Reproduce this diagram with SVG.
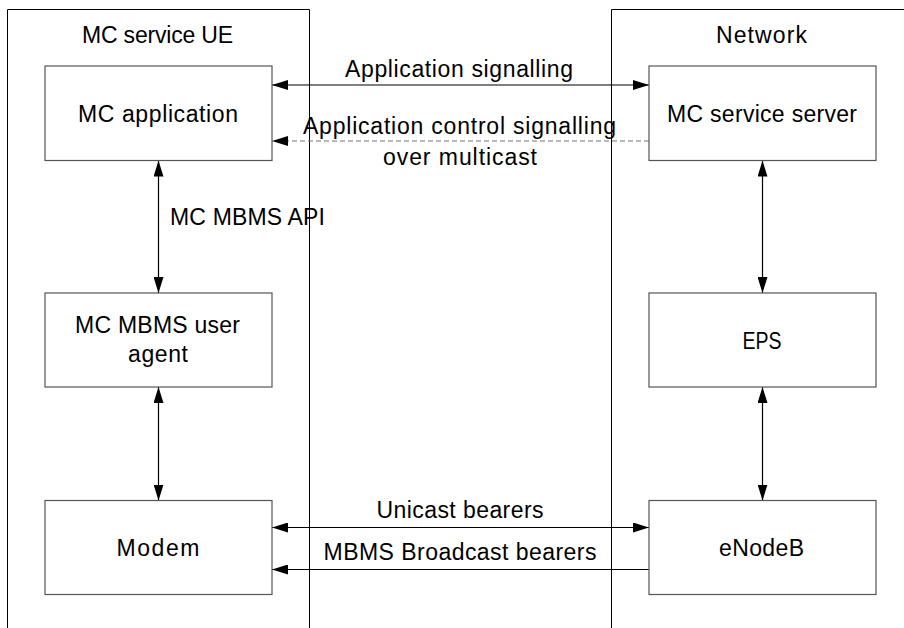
<svg xmlns="http://www.w3.org/2000/svg" width="904" height="628" viewBox="0 0 904 628">
<defs>
<style>
.c{fill:none;stroke:#000;stroke-width:1}
.n{fill:#fff;stroke:#555;stroke-width:1.2}
.t{font-family:"Liberation Sans",Arial,sans-serif;font-size:23px;fill:#000;text-anchor:middle}
.l{stroke:#000;stroke-width:1.2;fill:none}
.d{stroke:#777;stroke-width:1.2;fill:none;stroke-dasharray:5 3}
</style>
<marker id="ah" viewBox="0 0 16 10" refX="16" refY="5" markerWidth="16" markerHeight="10" markerUnits="userSpaceOnUse" orient="auto-start-reverse">
<path d="M0,0 L16,5 L0,10 z" fill="#000"/>
</marker>
</defs>
<rect width="904" height="628" fill="#fff"/>
<g id="ue-container">
<path class="c" d="M7.5,628 V9.5 H309.5 V628"/>
<text class="t" x="157.5" y="43" textLength="151" lengthAdjust="spacing">MC service UE</text>
</g>
<g id="network-container">
<path class="c" d="M611.5,628 V9.5 H904"/>
<text class="t" x="761.5" y="43" textLength="91" lengthAdjust="spacing">Network</text>
</g>
<g id="connectors">
<line class="l" x1="272" y1="85" x2="649" y2="85" marker-start="url(#ah)" marker-end="url(#ah)"/>
<line class="d" x1="649" y1="141" x2="272" y2="141" marker-end="url(#ah)"/>
<line class="l" x1="158.5" y1="160.5" x2="158.5" y2="293" marker-start="url(#ah)" marker-end="url(#ah)"/>
<line class="l" x1="158.5" y1="387" x2="158.5" y2="500.5" marker-start="url(#ah)" marker-end="url(#ah)"/>
<line class="l" x1="762.5" y1="160.5" x2="762.5" y2="293" marker-start="url(#ah)" marker-end="url(#ah)"/>
<line class="l" x1="762.5" y1="387" x2="762.5" y2="500.5" marker-start="url(#ah)" marker-end="url(#ah)"/>
<line class="l" x1="272" y1="527.5" x2="649" y2="527.5" marker-start="url(#ah)" marker-end="url(#ah)"/>
<line class="l" x1="649" y1="569.5" x2="272" y2="569.5" marker-end="url(#ah)"/>
<text class="t" x="459" y="77" textLength="228" lengthAdjust="spacing">Application signalling</text>
<text class="t" x="459.5" y="133.5" textLength="313" lengthAdjust="spacing">Application control signalling</text>
<text class="t" x="460" y="165" textLength="154" lengthAdjust="spacing">over multicast</text>
<text class="t" x="247.5" y="225" textLength="155" lengthAdjust="spacing">MC MBMS API</text>
<text class="t" x="460" y="517.5" textLength="167" lengthAdjust="spacing">Unicast bearers</text>
<text class="t" x="460" y="560" textLength="273" lengthAdjust="spacing">MBMS Broadcast bearers</text>
</g>
<g id="mc-application">
<rect class="n" x="45" y="66" width="227" height="94.5"/>
<text class="t" x="158" y="122" textLength="160" lengthAdjust="spacing">MC application</text>
</g>
<g id="mc-service-server">
<rect class="n" x="649" y="66" width="227" height="94.5"/>
<text class="t" x="762" y="122" textLength="190" lengthAdjust="spacing">MC service server</text>
</g>
<g id="mc-mbms-user-agent">
<rect class="n" x="45" y="293" width="227" height="94"/>
<text class="t" x="157.5" y="332.5" textLength="165" lengthAdjust="spacing">MC MBMS user</text>
<text class="t" x="158" y="362" textLength="60" lengthAdjust="spacing">agent</text>
</g>
<g id="eps">
<rect class="n" x="649" y="293" width="227" height="94"/>
<text class="t" x="762" y="348.5" textLength="39" lengthAdjust="spacingAndGlyphs">EPS</text>
</g>
<g id="modem">
<rect class="n" x="45" y="500.5" width="227" height="94"/>
<text class="t" x="158" y="556" textLength="83" lengthAdjust="spacing">Modem</text>
</g>
<g id="enodeb">
<rect class="n" x="649" y="500.5" width="227" height="94"/>
<text class="t" x="761.5" y="556" textLength="85" lengthAdjust="spacing">eNodeB</text>
</g>
</svg>
